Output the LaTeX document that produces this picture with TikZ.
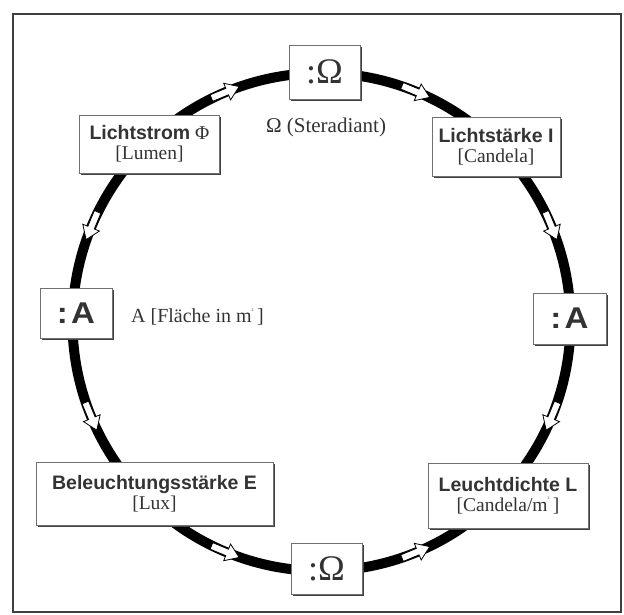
\documentclass[tikz,border=0pt]{standalone}
\usepackage{fontspec}
\setmainfont{Liberation Serif}
\setsansfont{Liberation Sans}
\usetikzlibrary{shadows}
\definecolor{txt}{HTML}{333333}
\definecolor{bord}{HTML}{707070}
\newcommand{\hdr}[1]{{\fontsize{19.5}{20}\selectfont\sffamily\bfseries #1}}
\newcommand{\sqsup}{\raisebox{1.3ex}{\fontsize{4}{4}\selectfont 2}}
\newcommand{\colA}{\scalebox{1.1}[1]{:\hspace{3pt}A}}
\tikzset{
  box/.style={draw=bord, line width=0.9pt, fill=white, inner sep=0pt, align=center, text=txt,
    font=\fontsize{19.5}{20}\selectfont,
    drop shadow={shadow xshift=1.8pt, shadow yshift=-1.8pt, fill=black!75, opacity=1}},
  ring/.style={line width=10pt, draw=black},
  blockarrow/.style={draw=black, fill=white, line width=0.8pt, line join=miter},
  plain/.style={text=txt, inner sep=0pt, font=\fontsize{20}{20}\selectfont},
  bigomega/.style={font=\fontsize{36}{36}\selectfont},
  bigA/.style={font=\fontsize{30}{30}\selectfont\sffamily\bfseries}
}
\begin{document}
\begin{tikzpicture}[x=1pt,y=1pt]
\useasboundingbox (0,0) rectangle (624,615);
\draw[line width=1.3pt, draw=black!75] (13,601) rectangle (621,3);
\coordinate (c) at (321.5,293);
\draw[ring] (c) circle (249);
% clockwise arrows
\foreach \a in {112.5,67.5,22.5,-22.5}{
  \begin{scope}[shift={(c)}, shift={(\a:249)}, rotate=\a-90]
    \draw[blockarrow] (-16,-3.5) -- (1,-3.5) -- (1,-9) -- (14,0) -- (1,9) -- (1,3.5) -- (-16,3.5) -- cycle;
  \end{scope}
}
% counter-clockwise arrows
\foreach \a in {157.5,202.5,247.5,292.5}{
  \begin{scope}[shift={(c)}, shift={(\a:249)}, rotate=\a+90]
    \draw[blockarrow] (-16,-3.5) -- (1,-3.5) -- (1,-9) -- (14,0) -- (1,9) -- (1,3.5) -- (-16,3.5) -- cycle;
  \end{scope}
}
\node[box, bigomega, minimum width=71, minimum height=54] (o1) at (324.5,543) {:Ω};
\node[box, minimum width=140, minimum height=58] (ls) at (149.5,471) {\hdr{Lichtstrom} Φ\\{[Lumen]}};
\node[box, minimum width=128, minimum height=59] (li) at (496,468) {\hdr{Lichtstärke I}\\{[Candela]}};
\node[box, bigA, minimum width=72, minimum height=50] (a1) at (76,302) {\colA};
\node[box, bigA, minimum width=73, minimum height=51] (a2) at (569.5,296.5) {\colA};
\node[box, minimum width=237, minimum height=63] (be) at (154.5,121.5) {\hdr{Beleuchtungsstärke E}\\{[Lux]}};
\node[box, minimum width=160, minimum height=65] (lu) at (508,119.5) {\hdr{Leuchtdichte L}\\{[Candela/m\sqsup\,]}};
\node[box, bigomega, minimum width=71, minimum height=51] (o2) at (326.5,46.5) {:Ω};
\node[plain, font=\fontsize{21}{21}\selectfont] (st) at (326,488) {Ω (Steradiant)};
\node[plain, anchor=west] (fl) at (131,298) {A [Fläche in m\sqsup\,]};
\end{tikzpicture}
\end{document}
